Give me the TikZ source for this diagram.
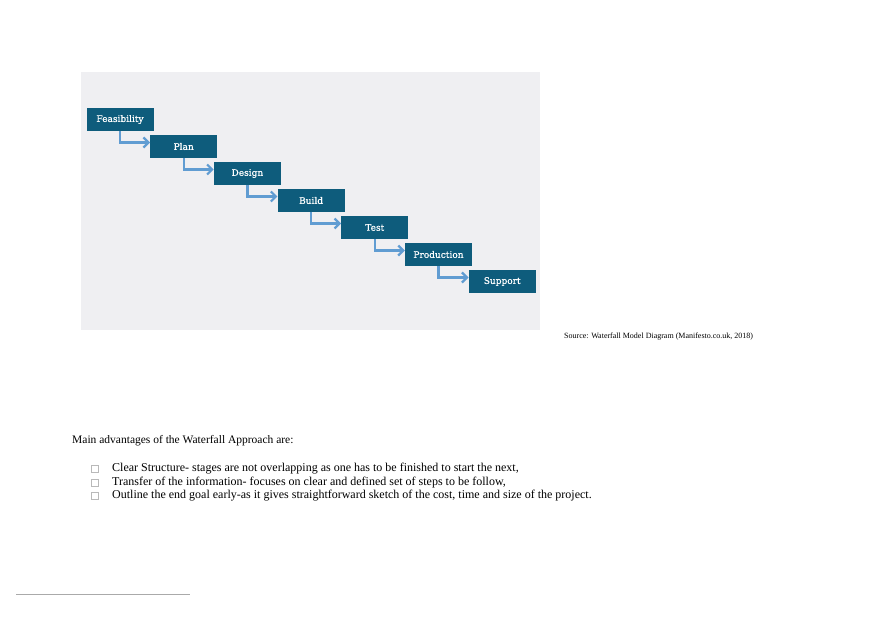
\documentclass[tikz,border=0pt]{standalone}
\usepackage{fontspec}
\setmainfont{Liberation Serif}
\newfontfamily\boxfont[FakeBold=0.6]{DejaVu Serif}
\usetikzlibrary{arrows.meta}
\definecolor{bgpanel}{RGB}{239,239,242}
\definecolor{stagefill}{RGB}{14,92,124}
\definecolor{arrowblue}{RGB}{96,156,210}
\definecolor{bulletgray}{RGB}{185,185,185}
\definecolor{rulegray}{RGB}{170,170,170}
\tikzset{
  stagebox/.style={fill=stagefill, text=white, minimum width=67pt, minimum height=23pt, inner sep=0pt, font=\boxfont\fontsize{9}{10}\selectfont},
  flowarrow/.style={draw=arrowblue, line width=2.4pt, -{Straight Barb[length=5pt,width=10pt,line width=2.2pt]}},
  bodytext/.style={anchor=west, inner sep=0pt, font=\fontsize{12}{14}\selectfont},
  bulletbox/.style={draw=bulletgray, line width=0.6pt, minimum size=7pt, inner sep=0pt}
}
\begin{document}
\begin{tikzpicture}[x=1pt,y=-1pt]
\useasboundingbox[fill=white] (0,0) rectangle (880,621);
\fill[bgpanel] (81,72) rectangle (540,330);
\node[stagebox] (s1) at (120,119.5) {Feasibility};
\node[stagebox] (s2) at (183.7,146.5) {Plan};
\node[stagebox] (s3) at (247.4,173.5) {Design};
\node[stagebox] (s4) at (311.1,200.5) {Build};
\node[stagebox] (s5) at (374.8,227.5) {Test};
\node[stagebox] (s6) at (438.5,254.5) {Production};
\node[stagebox] (s7) at (502.2,281.5) {Support};
\foreach \a/\b in {s1/s2,s2/s3,s3/s4,s4/s5,s5/s6,s6/s7}{
  \draw[flowarrow] (\a.south) |- ([yshift=4pt]\b.west);
}
\node[anchor=west, inner sep=0pt, font=\fontsize{8}{9}\selectfont] (src) at (564,337) {Source: Waterfall Model Diagram (Manifesto.co.uk, 2018)};
\node[bodytext, font=\fontsize{11.5}{14}\selectfont] (intro) at (72,441) {Main advantages of the Waterfall Approach are:};
\node[bulletbox] (b1) at (95,468.5) {};
\node[bulletbox] (b2) at (95,482.5) {};
\node[bulletbox] (b3) at (95,495.5) {};
\node[bodytext] (t1) at (112,468.5) {Clear Structure- stages are not overlapping as one has to be finished to start the next,};
\node[bodytext] (t2) at (112,482.5) {Transfer of the information- focuses on clear and defined set of steps to be follow,};
\node[bodytext] (t3) at (112,495.5) {Outline the end goal early-as it gives straightforward sketch of the cost, time and size of the project.};
\coordinate (fnA) at (16,594);
\coordinate (fnB) at (190,594);
\draw[rulegray, line width=0.8pt] (fnA) -- (fnB);
\end{tikzpicture}
\end{document}
